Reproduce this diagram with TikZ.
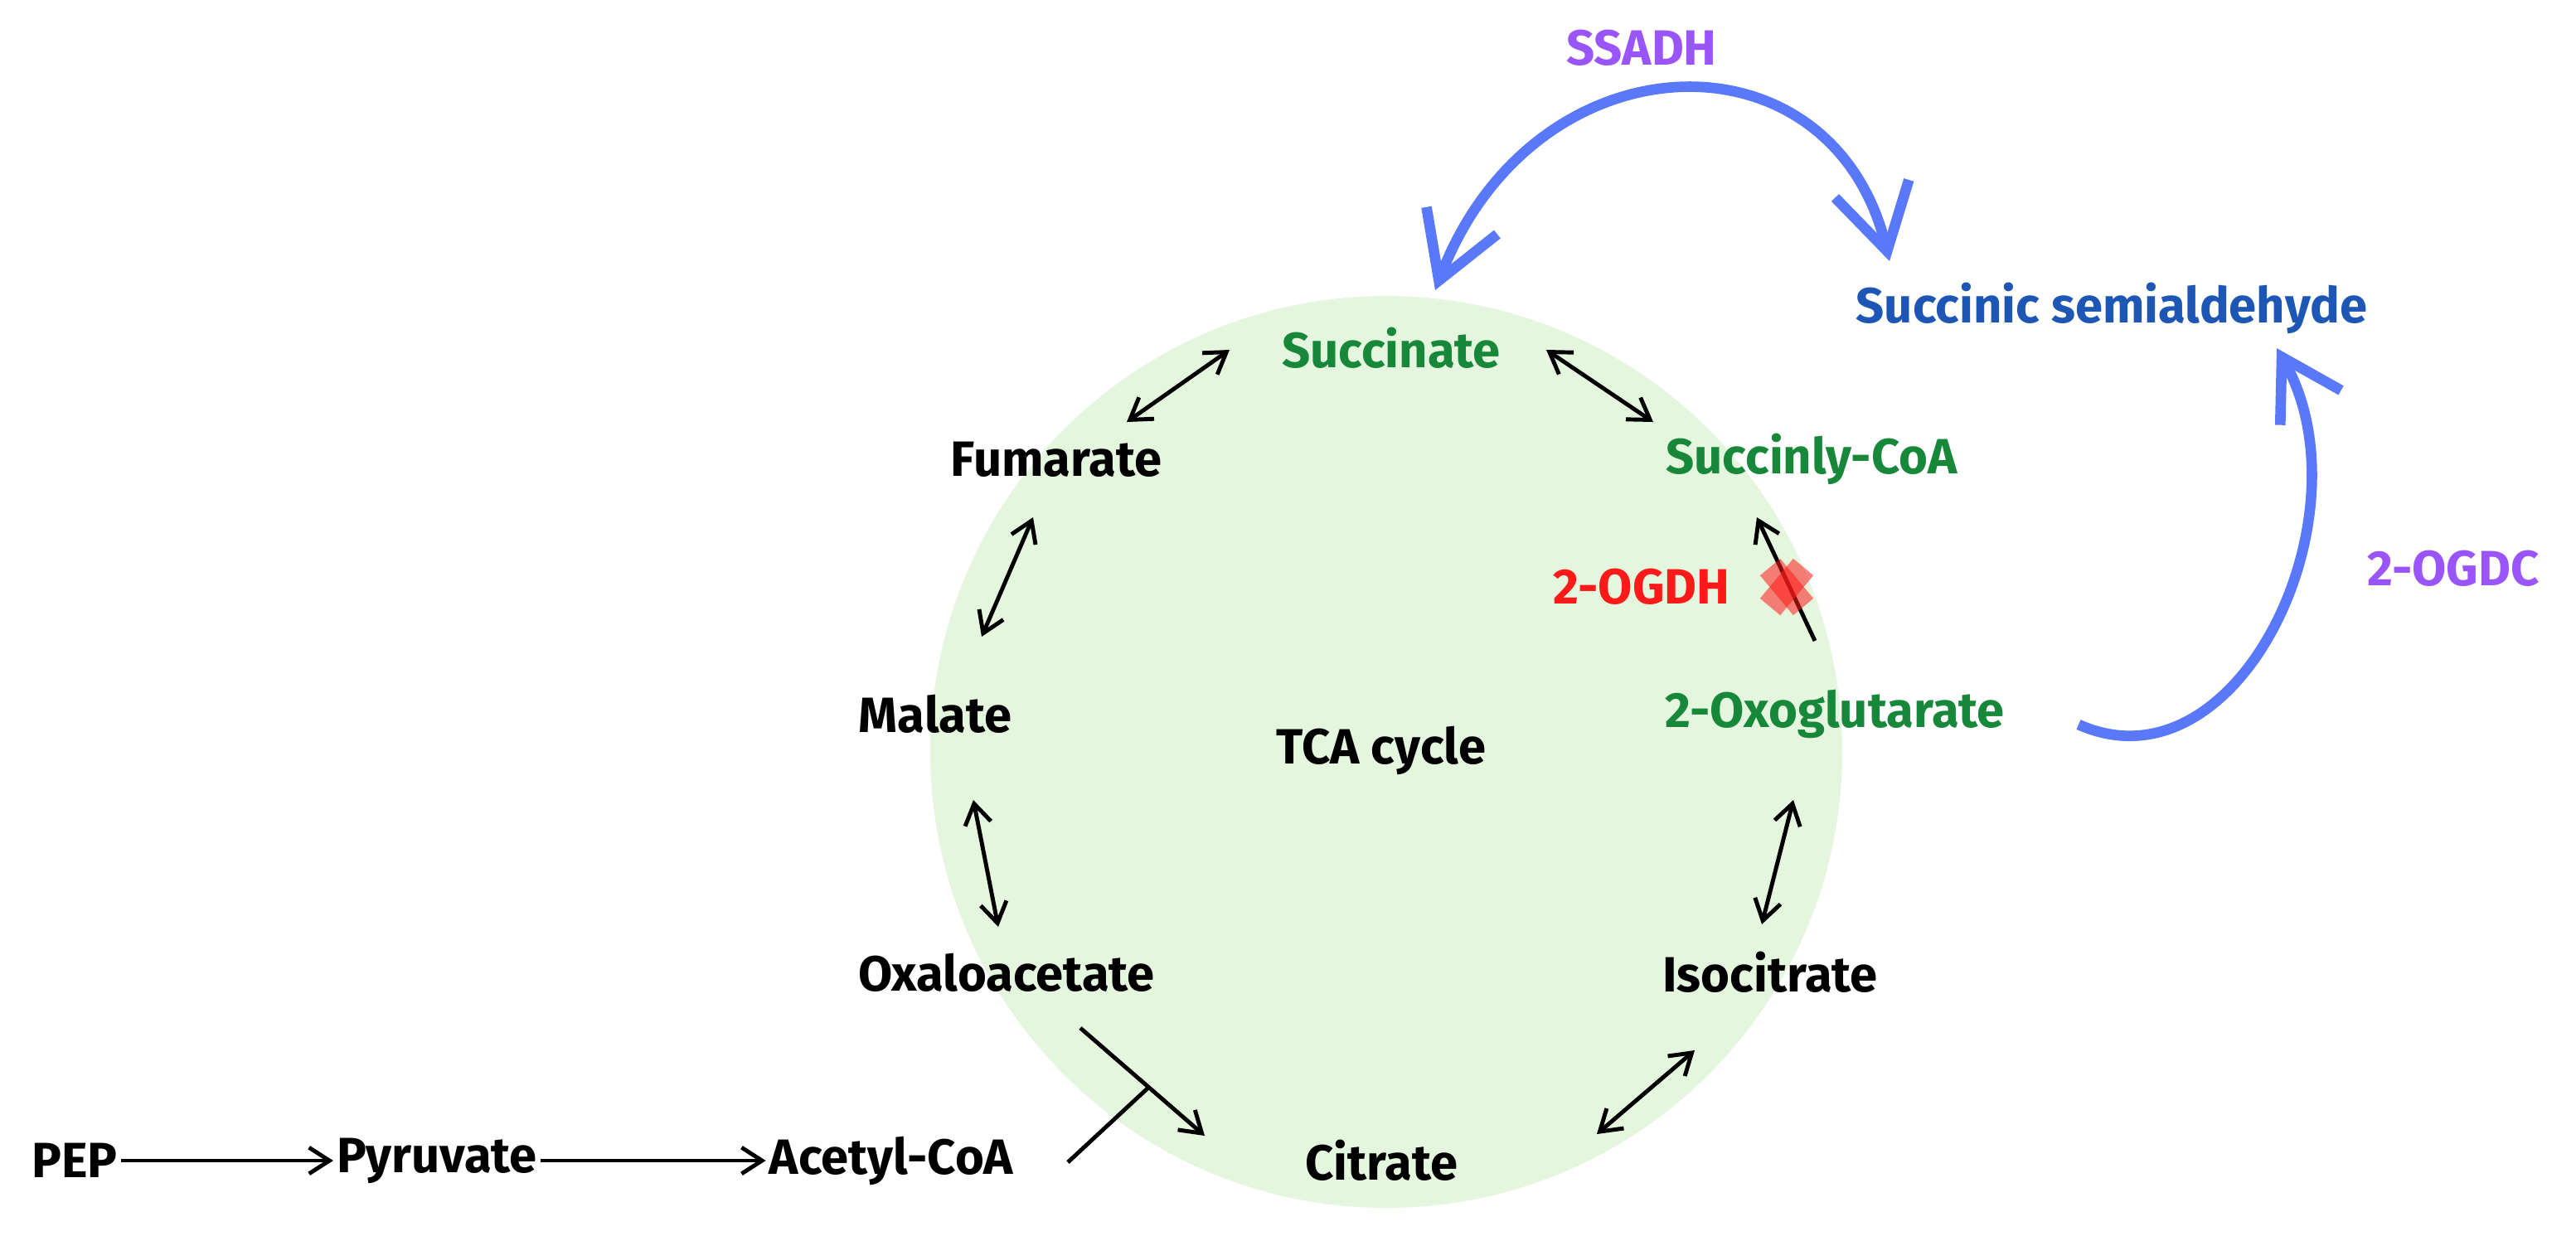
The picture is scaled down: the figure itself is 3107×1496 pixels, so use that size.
\documentclass[tikz,border=0pt]{standalone}
\usepackage{fontspec}
\setmainfont{Fira Sans}
\usetikzlibrary{arrows.meta}
\definecolor{tgreen}{HTML}{17873A}
\definecolor{tblue}{HTML}{5A78FA}
\definecolor{tdblue}{HTML}{1D56B4}
\definecolor{tpurple}{HTML}{9A55FA}
\definecolor{tred}{HTML}{FF1A1A}
\definecolor{tfill}{HTML}{E4F6DE}
\begin{document}
\begin{tikzpicture}[x=0.01cm,y=-0.01cm,
  lbl/.style={font=\fontsize{17}{20}\selectfont\bfseries, inner sep=1pt},
  thin/.style={line width=1.4pt, -{Straight Barb[length=7pt,width=9pt]}},
  both/.style={line width=1.4pt, {Straight Barb[length=7pt,width=9pt]}-{Straight Barb[length=7pt,width=9pt]}},
  bluearr/.style={tblue, line width=3.6pt}]
\useasboundingbox (0,0) rectangle (3107,1496);
\fill[tfill] (1672,907) circle (550);
\node[lbl] (tca) at (1666,905) {TCA cycle};
\node[lbl,tpurple] (ssadh) at (1980,58) {SSADH};
\node[lbl,tdblue] (ssa) at (2547,372) {Succinic semialdehyde};
\node[lbl,tgreen] (succ) at (1678,420) {Succinate};
\node[lbl] (fum) at (1274,554) {Fumarate};
\node[lbl,tgreen] (scoa) at (2185,554) {Succinly-CoA};
\node[lbl,tred] (ogdh) at (1980,708) {2-OGDH};
\node[lbl,tpurple] (ogdc) at (2959,686) {2-OGDC};
\node[lbl] (mal) at (1128,861) {Malate};
\node[lbl,tgreen] (oxo) at (2213,861) {2-Oxoglutarate};
\node[lbl] (oaa) at (1214,1173) {Oxaloacetate};
\node[lbl] (iso) at (2135,1173) {Isocitrate};
\node[lbl] (pep) at (90,1400) {PEP};
\node[lbl] (pyr) at (527,1400) {Pyruvate};
\node[lbl] (acoa) at (1075,1400) {Acetyl-CoA};
\node[lbl] (cit) at (1666,1400) {Citrate};
% cycle arrows
\draw[both] (1359,509) -- (1483,422);
\draw[both] (1865,422) -- (1994,509);
\draw[both] (1246,624) -- (1184,768);
\draw[both] (1174,965) -- (1204,1118);
\draw[both] (2163,965) -- (2125,1115);
\draw[both] (2044,1267) -- (1926,1368);
\draw[thin] (2189,773) -- (2119,624);
\begin{scope}[tred, opacity=0.55, line width=9pt]
\coordinate (xc) at (2155,708);
\draw ([shift={(-20,-24)}]xc) -- ([shift={(20,24)}]xc);
\draw ([shift={(20,-24)}]xc) -- ([shift={(-20,24)}]xc);
\end{scope}
\draw[thin] (1303,1240) -- (1453,1370);
\draw[line width=1.4pt] (1288,1402) -- (1385,1312);
\draw[thin] (pep) -- (pyr);
\draw[thin] (pyr) -- (acoa);
% blue arrows
\draw[bluearr, {Straight Barb[length=22pt,width=26pt]}-{Straight Barb[length=22pt,width=26pt]}]
  (1731,350) .. controls (1850,40) and (2210,30) .. (2279,315);
\draw[bluearr, -{Straight Barb[length=20pt,width=24pt]}]
  (2507,874) .. controls (2700,960) and (2860,620) .. (2746,420);
\end{tikzpicture}
\end{document}
